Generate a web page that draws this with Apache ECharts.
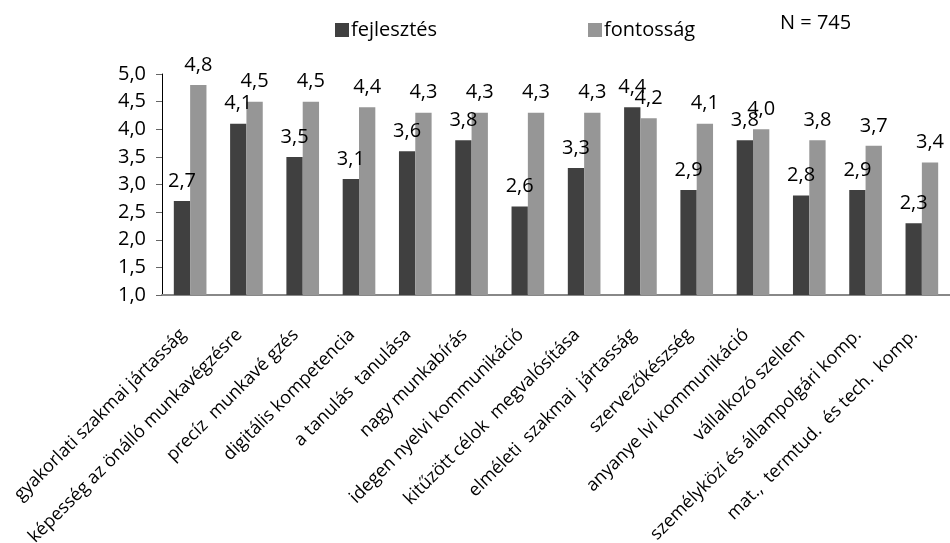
<!DOCTYPE html>
<html>
<head>
<meta charset="utf-8">
<script src="https://cdn.jsdelivr.net/npm/echarts@6/dist/echarts.min.js"></script>
<style>
  html, body { margin: 0; padding: 0; background: #fff; }
  #chart { width: 950px; height: 543px; }
</style>
</head>
<body>
<div id="chart"></div>
<script>
// Competences: how much they were developed vs. how important they are
const categories = [
  'gyakorlati szakmai jártasság',
  'képesség az önálló munkavégzésre',
  'precíz  munkavé gzés',
  'digitális kompetencia',
  'a tanulás  tanulása',
  'nagy munkabírás',
  'idegen nyelvi kommunikáció',
  'kitűzött célok  megvalósítása',
  'elméleti  szakmai  jártasság',
  'szervezőkészség',
  'anyanye lvi kommunikáció',
  'vállalkozó szellem',
  'személyközi és állampolgári komp.',
  'mat.,  termtud.  és tech.  komp.'
];
const fejlesztes = [2.7, 4.1, 3.5, 3.1, 3.6, 3.8, 2.6, 3.3, 4.4, 2.9, 3.8, 2.8, 2.9, 2.3];
const fontossag  = [4.8, 4.5, 4.5, 4.4, 4.3, 4.3, 4.3, 4.3, 4.2, 4.1, 4.0, 3.8, 3.7, 3.4];
const seriesNames = ['fejlesztés', 'fontosság'];
const sampleNote = 'N = 745';

const FONT = '"Open Sans", "Noto Sans", sans-serif';
const comma = v => v.toFixed(1).replace('.', ',');

const chart = echarts.init(document.getElementById('chart'), null, { renderer: 'canvas' });

const labelStyle = {
  show: true,
  position: 'top',
  distance: 10,
  fontFamily: FONT,
  fontSize: 20,
  color: '#000',
  formatter: p => comma(p.value)
};

const legendBase = {
  top: 15,
  itemWidth: 14, itemHeight: 14, itemGap: 4,
  icon: 'rect',
  textStyle: { fontFamily: FONT, fontSize: 20, color: '#000', padding: [0, 0, 0, -3] }
};

chart.setOption({
  animation: false,
  backgroundColor: '#fff',
  textStyle: { fontFamily: FONT },
  legend: [
    Object.assign({ data: [seriesNames[0]], left: 330 }, legendBase),
    Object.assign({ data: [seriesNames[1]], left: 583 }, legendBase)
  ],
  graphic: [{
    type: 'text',
    left: 780, top: 13,
    style: { text: sampleNote, fontFamily: FONT, fontSize: 20, fill: '#000' }
  }],
  grid: {
    left: 162, right: 0, top: 74, bottom: 248,
    containLabel: false, outerBoundsMode: 'none'
  },
  xAxis: {
    type: 'category',
    data: categories,
    axisLine: { lineStyle: { color: '#888', width: 2 } },
    axisTick: { show: false },
    axisLabel: {
      rotate: 45,
      interval: 0,
      margin: 30,
      padding: [0, 10, 0, 0],
      fontFamily: FONT,
      fontSize: 18,
      color: '#000'
    }
  },
  yAxis: {
    type: 'value',
    min: 1, max: 5, interval: 0.5,
    splitLine: { show: false },
    axisLine: { show: true, lineStyle: { color: '#000', width: 1 } },
    axisTick: { show: true, length: 6, lineStyle: { color: '#666' } },
    axisLabel: {
      fontFamily: FONT, fontSize: 20, color: '#000', margin: 16,
      formatter: v => comma(v)
    }
  },
  series: [
    {
      name: seriesNames[0], type: 'bar', data: fejlesztes,
      barGap: '0%', barCategoryGap: '42%',
      itemStyle: { color: '#404040' },
      label: labelStyle
    },
    {
      name: seriesNames[1], type: 'bar', data: fontossag,
      barGap: '0%', barCategoryGap: '42%',
      itemStyle: { color: '#969696' },
      label: labelStyle
    }
  ]
});
</script>
</body>
</html>
